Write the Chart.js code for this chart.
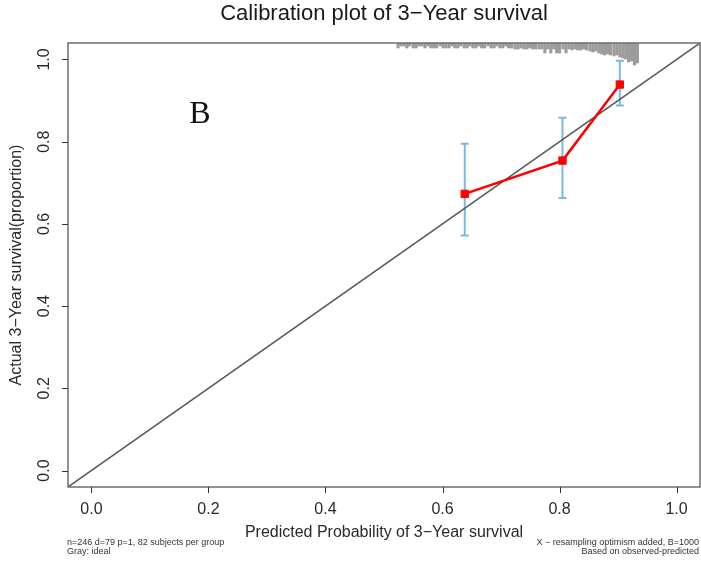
<!DOCTYPE html>
<html>
<head>
<meta charset="utf-8">
<script src="https://cdn.jsdelivr.net/npm/chart.js@4.4.0/dist/chart.umd.min.js"></script>
<style>
  html, body { margin: 0; padding: 0; background: #fff; overflow: hidden; }
  canvas { display: block; }
</style>
</head>
<body>
<canvas id="calib" width="701" height="563"></canvas>
<script>
// --- data ---
const predicted = [0.638, 0.805, 0.903];
const observed  = [0.673, 0.754, 0.939];
const lowerCI   = [0.572, 0.663, 0.888];
const upperCI   = [0.795, 0.858, 0.997];

const xTicks = [0, 0.2, 0.4, 0.6, 0.8, 1.0];
const yTicks = [0, 0.2, 0.4, 0.6, 0.8, 1.0];
const axisMin = -0.04, axisMax = 1.04;

// distribution of predicted risk (rug hanging from the top border)
const rugX = [0.524, 0.529, 0.534, 0.539, 0.544, 0.550, 0.555, 0.560, 0.565, 0.570,
              0.575, 0.580, 0.585, 0.590, 0.596, 0.601, 0.606, 0.611, 0.616, 0.621,
              0.626, 0.631, 0.637, 0.642, 0.647, 0.652, 0.657, 0.662, 0.667, 0.672,
              0.678, 0.683, 0.688, 0.693, 0.698, 0.703, 0.708, 0.713, 0.718, 0.724,
              0.729, 0.734, 0.739, 0.744, 0.749, 0.754, 0.759, 0.765, 0.770, 0.775,
              0.780, 0.785, 0.790, 0.795, 0.800, 0.806, 0.811, 0.816, 0.821, 0.826,
              0.831, 0.836, 0.841, 0.846, 0.852, 0.857, 0.862, 0.867, 0.872, 0.877,
              0.882, 0.887, 0.893, 0.898, 0.903, 0.908, 0.913, 0.918, 0.923, 0.928, 0.933];
const rugFreq = [5, 3, 3, 5, 3, 5, 5, 3, 3, 5,
                 3, 5, 5, 5, 3, 5, 5, 5, 3, 5,
                 5, 3, 5, 5, 3, 5, 5, 3, 5, 5,
                 3, 5, 5, 3, 5, 5, 3, 5, 5, 6,
                 6, 5, 6, 6, 5, 6, 6, 6, 6, 10,
                 6, 10, 6, 10, 10, 6, 10, 6, 7, 6,
                 7, 7, 6, 7, 8, 9, 8, 10, 11, 12,
                 11, 12, 13, 12, 14, 15, 16, 19, 18, 22, 20];
const rugUnit = 0.00243; // axis units per frequency count

const FONT = '"Liberation Sans", Arial, Helvetica, sans-serif';

const rugData = rugX.map((x, i) => ({ x: x, y: [axisMax - rugFreq[i] * rugUnit, axisMax] }));
const calData = predicted.map((x, i) => ({ x: x, y: observed[i] }));
const idealData = [{ x: axisMin, y: axisMin }, { x: axisMax, y: axisMax }];

// error bars + R-style frame, ticks and text
const rStyle = {
  id: 'rStyle',
  beforeDatasetsDraw(chart) {
    const ctx = chart.ctx, xs = chart.scales.x, ys = chart.scales.y;
    ctx.save();
    ctx.strokeStyle = '#7ab8e4';
    ctx.lineWidth = 2;
    predicted.forEach((p, i) => {
      const px = xs.getPixelForValue(p);
      const lo = ys.getPixelForValue(lowerCI[i]);
      const hi = ys.getPixelForValue(upperCI[i]);
      ctx.beginPath();
      ctx.moveTo(px, lo); ctx.lineTo(px, hi);
      ctx.moveTo(px - 4, lo); ctx.lineTo(px + 4, lo);
      ctx.moveTo(px - 4, hi); ctx.lineTo(px + 4, hi);
      ctx.stroke();
    });
    ctx.restore();
  },
  afterDraw(chart) {
    const ctx = chart.ctx, a = chart.chartArea;
    const xs = chart.scales.x, ys = chart.scales.y;
    ctx.save();
    // frame
    ctx.strokeStyle = '#6e6e6e';
    ctx.lineWidth = 1.5;
    ctx.strokeRect(a.left, a.top, a.right - a.left, a.bottom - a.top);

    // ticks
    ctx.strokeStyle = '#333';
    ctx.lineWidth = 1;
    ctx.beginPath();
    xTicks.forEach(v => {
      const px = Math.round(xs.getPixelForValue(v)) + 0.5;
      ctx.moveTo(px, a.bottom); ctx.lineTo(px, a.bottom + 6);
    });
    yTicks.forEach(v => {
      const py = Math.round(ys.getPixelForValue(v)) + 0.5;
      ctx.moveTo(a.left, py); ctx.lineTo(a.left - 6, py);
    });
    ctx.stroke();

    // tick labels
    ctx.fillStyle = '#2a2a2a';
    ctx.font = '16px ' + FONT;
    ctx.textAlign = 'center';
    ctx.textBaseline = 'middle';
    xTicks.forEach(v => ctx.fillText(v.toFixed(1), xs.getPixelForValue(v), 510));
    yTicks.forEach(v => {
      ctx.save();
      ctx.translate(45, ys.getPixelForValue(v));
      ctx.rotate(-Math.PI / 2);
      ctx.fillText(v.toFixed(1), 0, 0);
      ctx.restore();
    });

    // axis titles
    const cx = (a.left + a.right) / 2, cy = (a.top + a.bottom) / 2;
    ctx.fillText('Predicted Probability of 3\u2212Year survival', cx, 533);
    ctx.save();
    ctx.translate(17, cy);
    ctx.rotate(-Math.PI / 2);
    ctx.fillText('Actual 3\u2212Year survival(proportion)', 0, 0);
    ctx.restore();

    // main title
    ctx.font = '22px ' + FONT;
    ctx.fillStyle = '#1a1a1a';
    ctx.fillText('Calibration plot of 3\u2212Year survival', cx, 14);

    // panel letter
    ctx.font = '32px "Liberation Serif", "Times New Roman", serif';
    ctx.fillStyle = '#111';
    ctx.fillText('B', 200, 115);

    // footnotes
    ctx.font = '9px ' + FONT;
    ctx.fillStyle = '#333';
    ctx.textAlign = 'left';
    ctx.fillText('n=246 d=79 p=1, 82 subjects per group', 67, 543);
    ctx.fillText('Gray: ideal', 67, 552);
    ctx.textAlign = 'right';
    ctx.fillText('X \u2212 resampling optimism added, B=1000', 699, 543);
    ctx.fillText('Based on observed-predicted', 699, 552);
    ctx.restore();
  }
};

new Chart(document.getElementById('calib'), {
  type: 'scatter',
  data: {
    datasets: [
      {
        type: 'line',
        label: 'Apparent',
        data: calData,
        borderColor: '#ff0000',
        backgroundColor: '#ff0000',
        borderWidth: 2.5,
        pointStyle: 'rect',
        pointRadius: 5.2,
        pointBorderWidth: 1,
        pointBorderColor: '#ff0000',
        pointBackgroundColor: '#ff0000',
        fill: false,
        tension: 0
      },
      {
        type: 'line',
        label: 'Ideal',
        data: idealData,
        borderColor: '#5a5a5a',
        borderWidth: 1.5,
        pointRadius: 0,
        fill: false
      },
      {
        type: 'bar',
        label: 'Risk distribution',
        data: rugData,
        backgroundColor: '#9c9c9c',
        barThickness: 2.5,
        borderWidth: 0
      }
    ]
  },
  plugins: [rStyle],
  options: {
    responsive: false,
    animation: false,
    layout: { autoPadding: false, padding: { left: 68, right: 1, top: 43, bottom: 76 } },
    plugins: {
      legend: { display: false },
      tooltip: { enabled: false },
      title: { display: false }
    },
    scales: {
      x: { type: 'linear', display: false, min: axisMin, max: axisMax, offset: false },
      y: { type: 'linear', display: false, min: axisMin, max: axisMax }
    }
  }
});
</script>
</body>
</html>
